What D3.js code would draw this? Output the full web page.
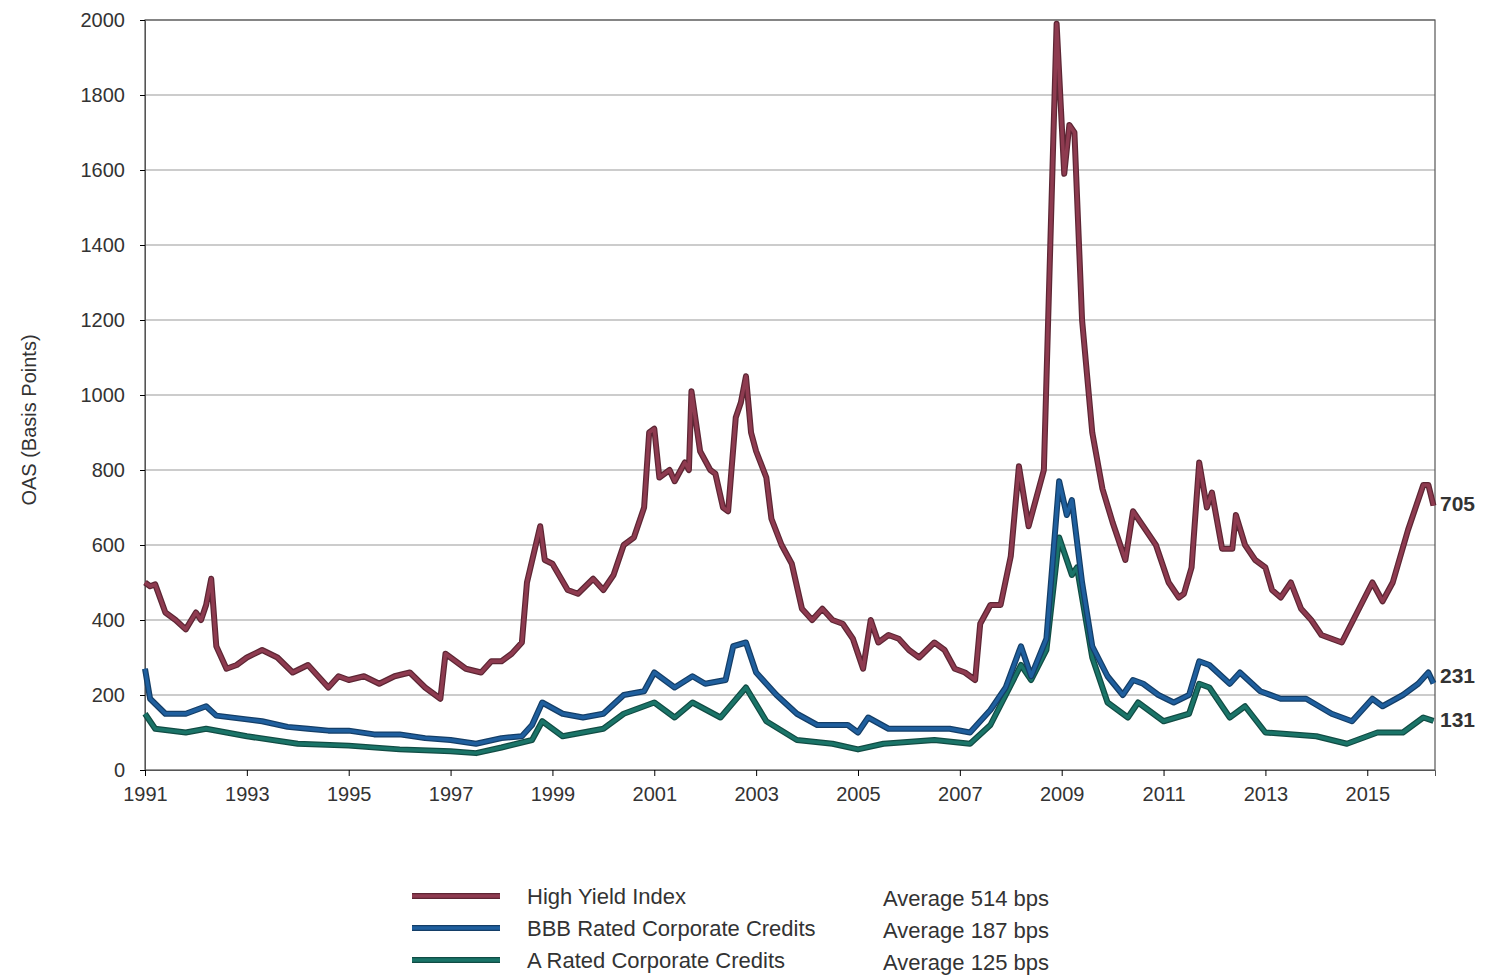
<!DOCTYPE html>
<html><head><meta charset="utf-8">
<script src="https://cdn.jsdelivr.net/npm/d3@7"></script>
<style>body{margin:0;background:#fff}text{font-family:"Liberation Sans",Arial,sans-serif}</style>
</head><body><svg id="c" width="1485" height="975"></svg>
<script>
var hyData = [[1991.0,500],[1991.1,490],[1991.2,495],[1991.4,420],[1991.6,400],[1991.8,375],[1992.0,420],[1992.1,400],[1992.2,440],[1992.3,510],[1992.4,330],[1992.6,270],[1992.8,280],[1993.0,300],[1993.3,320],[1993.6,300],[1993.9,260],[1994.2,280],[1994.4,250],[1994.6,220],[1994.8,250],[1995.0,240],[1995.3,250],[1995.6,230],[1995.9,250],[1996.2,260],[1996.5,220],[1996.8,190],[1996.9,310],[1997.1,290],[1997.3,270],[1997.6,260],[1997.8,290],[1998.0,290],[1998.2,310],[1998.4,340],[1998.5,500],[1998.76,650],[1998.85,560],[1999.0,550],[1999.3,480],[1999.5,470],[1999.8,510],[2000.0,480],[2000.2,520],[2000.4,600],[2000.6,620],[2000.8,700],[2000.9,900],[2001.0,910],[2001.1,780],[2001.3,800],[2001.4,770],[2001.6,820],[2001.68,800],[2001.73,1010],[2001.9,850],[2002.1,800],[2002.2,790],[2002.35,700],[2002.45,690],[2002.6,940],[2002.7,980],[2002.8,1050],[2002.9,900],[2003.0,850],[2003.2,780],[2003.3,670],[2003.5,600],[2003.7,550],[2003.9,430],[2004.1,400],[2004.3,430],[2004.5,400],[2004.7,390],[2004.9,350],[2005.0,310],[2005.1,270],[2005.25,400],[2005.4,340],[2005.6,360],[2005.8,350],[2006.0,320],[2006.2,300],[2006.5,340],[2006.7,320],[2006.9,270],[2007.1,260],[2007.3,240],[2007.4,390],[2007.6,440],[2007.8,440],[2008.0,570],[2008.16,810],[2008.35,650],[2008.65,800],[2008.9,1990],[2009.05,1590],[2009.15,1720],[2009.25,1700],[2009.4,1200],[2009.6,900],[2009.8,750],[2010.0,660],[2010.25,560],[2010.4,690],[2010.6,650],[2010.85,600],[2011.1,500],[2011.3,460],[2011.4,470],[2011.55,540],[2011.7,820],[2011.85,700],[2011.95,740],[2012.15,590],[2012.35,590],[2012.42,680],[2012.6,600],[2012.8,560],[2013.0,540],[2013.13,480],[2013.3,460],[2013.5,500],[2013.7,430],[2013.9,400],[2014.1,360],[2014.5,340],[2014.8,420],[2015.1,500],[2015.3,450],[2015.5,500],[2015.8,640],[2016.1,760],[2016.2,760],[2016.3,705]];
var bbbData = [[1991.0,270],[1991.1,190],[1991.4,150],[1991.8,150],[1992.2,170],[1992.4,145],[1993.0,135],[1993.3,130],[1993.8,115],[1994.2,110],[1994.6,105],[1995.0,105],[1995.5,95],[1996.0,95],[1996.5,85],[1997.0,80],[1997.5,70],[1998.0,85],[1998.4,90],[1998.6,120],[1998.8,180],[1999.2,150],[1999.6,140],[2000.0,150],[2000.4,200],[2000.8,210],[2001.0,260],[2001.4,220],[2001.75,250],[2002.0,230],[2002.4,240],[2002.55,330],[2002.8,340],[2003.0,260],[2003.4,200],[2003.8,150],[2004.2,120],[2004.8,120],[2005.0,100],[2005.2,140],[2005.6,110],[2006.2,110],[2006.8,110],[2007.2,100],[2007.6,160],[2007.9,220],[2008.2,330],[2008.4,250],[2008.7,350],[2008.95,770],[2009.1,680],[2009.2,720],[2009.4,500],[2009.6,330],[2009.9,250],[2010.2,200],[2010.4,240],[2010.6,230],[2010.9,200],[2011.2,180],[2011.5,200],[2011.7,290],[2011.9,280],[2012.3,230],[2012.5,260],[2012.9,210],[2013.3,190],[2013.8,190],[2014.3,150],[2014.7,130],[2015.1,190],[2015.3,170],[2015.7,200],[2016.0,230],[2016.2,260],[2016.3,231]];
var aData = [[1991.0,150],[1991.2,110],[1991.8,100],[1992.2,110],[1993.0,90],[1994.0,70],[1995.0,65],[1996.0,55],[1997.0,50],[1997.5,45],[1998.0,60],[1998.6,80],[1998.8,130],[1999.2,90],[2000.0,110],[2000.4,150],[2001.0,180],[2001.4,140],[2001.75,180],[2002.3,140],[2002.8,220],[2003.2,130],[2003.8,80],[2004.5,70],[2005.0,55],[2005.5,70],[2006.5,80],[2007.2,70],[2007.6,120],[2008.2,280],[2008.4,240],[2008.7,320],[2008.95,620],[2009.2,520],[2009.3,540],[2009.6,300],[2009.9,180],[2010.3,140],[2010.5,180],[2011.0,130],[2011.5,150],[2011.7,230],[2011.9,220],[2012.3,140],[2012.6,170],[2013.0,100],[2014.0,90],[2014.6,70],[2015.2,100],[2015.7,100],[2016.1,140],[2016.3,131]];
var yearTicks = [1991,1993,1995,1997,1999,2001,2003,2005,2007,2009,2011,2013,2015];
var yTicks = [0,200,400,600,800,1000,1200,1400,1600,1800,2000];
var seriesNames = ["High Yield Index","BBB Rated Corporate Credits","A Rated Corporate Credits"];
var averages = ["Average  514 bps","Average  187 bps","Average  125 bps"];
var endLabels = ["705","231","131"];
var colors = ["#8e3b50","#1f5f9e","#1a7468"];

var svg = d3.select("#c");
var x = d3.scaleLinear().domain([1991, 2016.33]).range([145, 1435]);
var y = d3.scaleLinear().domain([0, 2000]).range([770, 20]);

// grid
svg.append("g").selectAll("line").data(yTicks.slice(1)).join("line")
  .attr("x1", 145).attr("x2", 1435).attr("y1", d => y(d)).attr("y2", d => y(d))
  .attr("stroke", "#999").attr("stroke-width", 1);
svg.append("rect").attr("x", 145).attr("y", 20).attr("width", 1290).attr("height", 750)
  .attr("fill", "none").attr("stroke", "#555").attr("stroke-width", 1.2);

var yAxis = svg.append("g").attr("transform", "translate(145,0)")
  .call(d3.axisLeft(y).tickValues(yTicks).tickSize(5).tickFormat(d3.format("d")));
var xAxis = svg.append("g").attr("transform", "translate(0,770)")
  .call(d3.axisBottom(x).tickValues(yearTicks).tickSize(6).tickFormat(d3.format("d")));
[yAxis, xAxis].forEach(function (a) {
  a.select(".domain").attr("stroke", "#555");
  a.selectAll("text").attr("font-size", 20).attr("fill", "#333");
});
yAxis.selectAll("text").attr("dx", -12);
xAxis.selectAll("text").attr("dy", 22);

svg.append("text").attr("transform", "translate(36,420) rotate(-90)")
  .attr("text-anchor", "middle").attr("font-size", 20).attr("fill", "#333").text("OAS (Basis Points)");

var line = d3.line().x(d => x(d[0])).y(d => y(d[1])).curve(d3.curveLinear);
[aData, bbbData, hyData].forEach(function (data, i) {
  var c = colors[2 - i];
  svg.append("path").datum(data).attr("d", line).attr("fill", "none")
    .attr("stroke", d3.color(c).darker(1.2)).attr("stroke-width", 6).attr("stroke-linejoin", "round");
  svg.append("path").datum(data).attr("d", line).attr("fill", "none")
    .attr("stroke", c).attr("stroke-width", 3.5).attr("stroke-linejoin", "round");
});

[hyData, bbbData, aData].forEach(function (data, i) {
  var last = data[data.length - 1];
  svg.append("text").attr("x", 1440).attr("y", y(last[1]) + (i == 0 ? 5 : i == 1 ? 0 : 6))
    .attr("font-size", 21).attr("font-weight", "bold").attr("fill", "#333").text(endLabels[i]);
});

// legend
var lg = svg.append("g");
seriesNames.forEach(function (n, i) {
  var ly = 896 + i * 32;
  lg.append("line").attr("x1", 412).attr("x2", 500).attr("y1", ly).attr("y2", ly)
    .attr("stroke", d3.color(colors[i]).darker(1.2)).attr("stroke-width", 6);
  lg.append("line").attr("x1", 412).attr("x2", 500).attr("y1", ly).attr("y2", ly)
    .attr("stroke", colors[i]).attr("stroke-width", 3.5);
  lg.append("text").attr("x", 527).attr("y", ly + 8).attr("font-size", 22).attr("fill", "#333").text(n);
  lg.append("text").attr("x", 883).attr("y", ly + 10).attr("font-size", 22).attr("fill", "#333").text(averages[i]);
});
</script></body></html>
